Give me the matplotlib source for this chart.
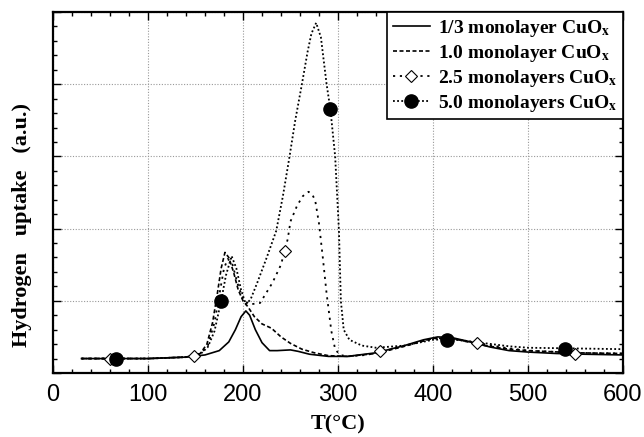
import matplotlib
matplotlib.use("Agg")
import matplotlib.pyplot as plt
from matplotlib.lines import Line2D
from matplotlib.ticker import MultipleLocator

plt.rcParams['mathtext.fontset'] = 'stix'

# 1/3 monolayer CuOx (solid)
t_13 = [30, 100, 140, 160, 175, 185, 192, 198, 203, 207, 213, 220, 228, 236, 250, 258, 270, 290,
        310, 340, 370, 390, 405, 420, 440, 460, 480, 500, 530, 560, 600]
h_13 = [0.2, 0.2, 0.22, 0.25, 0.31, 0.43, 0.6, 0.78, 0.86, 0.8, 0.6, 0.42, 0.31, 0.31, 0.32, 0.3,
        0.26, 0.23, 0.23, 0.28, 0.38, 0.46, 0.5, 0.49, 0.43, 0.36, 0.31, 0.29, 0.27, 0.26, 0.25]

# 1.0 monolayer CuOx (dashed)
t_10 = [30, 100, 140, 155, 162, 168, 173, 177, 181, 185, 190, 195, 200, 205, 212, 220, 230, 240,
        250, 262, 275, 290, 310, 340, 370, 400, 420, 450, 480, 500, 550, 600]
h_10 = [0.2, 0.2, 0.22, 0.27, 0.4, 0.7, 1.1, 1.45, 1.67, 1.6, 1.4, 1.15, 1.0, 0.92, 0.78, 0.68,
        0.62, 0.5, 0.41, 0.33, 0.28, 0.24, 0.23, 0.27, 0.37, 0.48, 0.48, 0.39, 0.33, 0.31, 0.28, 0.27]

# 2.5 monolayers CuOx (sparse dots)
t_25 = [30, 100, 140, 155, 163, 170, 176, 180, 184, 189, 194, 200, 207, 218, 231, 240, 247, 250,
        257, 263, 269, 273, 276, 280, 284, 288, 293, 297, 302, 310, 330, 360, 400, 420, 450, 480,
        500, 550, 600]
h_25 = [0.2, 0.2, 0.22, 0.26, 0.38, 0.7, 1.15, 1.45, 1.58, 1.5, 1.25, 1.02, 0.95, 0.97, 1.25,
        1.5, 1.85, 2.1, 2.32, 2.45, 2.51, 2.47, 2.39, 2.07, 1.6, 1.1, 0.58, 0.33, 0.25, 0.23, 0.25,
        0.34, 0.48, 0.47, 0.41, 0.34, 0.31, 0.28, 0.27]
t_25_mk = [60, 148, 244, 344, 446, 549]
h_25_mk = [0.2, 0.24, 1.69, 0.3, 0.41, 0.27]

# 5.0 monolayers CuOx (dense dots)
t_50 = [30, 100, 140, 155, 163, 170, 177, 182, 188, 193, 198, 203, 208, 215, 225, 235, 242, 249,
        255, 262, 268, 272, 277, 282, 288, 292, 297, 301, 303, 306, 312, 325, 340, 370, 400, 420,
        450, 480, 500, 550, 600]
h_50 = [0.2, 0.2, 0.22, 0.26, 0.36, 0.58, 1.0, 1.35, 1.62, 1.45, 1.15, 0.95, 1.02, 1.25, 1.6,
        1.97, 2.45, 3.0, 3.5, 4.0, 4.45, 4.7, 4.85, 4.65, 4.0, 3.65, 3.0, 1.97, 1.0, 0.6, 0.46,
        0.38, 0.35, 0.38, 0.46, 0.47, 0.42, 0.37, 0.35, 0.34, 0.33]
t_50_mk = [66, 177, 292, 415, 539]
h_50_mk = [0.2, 1.0, 3.65, 0.46, 0.33]

labels = [r'1/3 monolayer CuO$_{\mathbf{x}}$', r'1.0 monolayer CuO$_{\mathbf{x}}$',
          r'2.5 monolayers CuO$_{\mathbf{x}}$', r'5.0 monolayers CuO$_{\mathbf{x}}$']

ls_10 = (0, (2.4, 1.5))
ls_25 = (0, (1.2, 2.6))
ls_50 = (0, (1.0, 1.3))

fig = plt.figure(figsize=(6.44, 4.37), dpi=100)
ax = fig.add_axes([53 / 644, 64 / 437, 570 / 644, 361 / 437])

ax.plot(t_13, h_13, color='black', lw=1.2, ls='-')
ax.plot(t_10, h_10, color='black', lw=1.2, ls=ls_10)
ax.plot(t_25, h_25, color='black', lw=1.3, ls=ls_25)
ax.plot(t_50, h_50, color='black', lw=1.3, ls=ls_50)
ax.plot(t_25_mk, h_25_mk, ls='none', marker='D', ms=6.5, mfc='white', mec='black', mew=0.8)
ax.plot(t_50_mk, h_50_mk, ls='none', marker='o', ms=9.5, mfc='black', mec='black')

ax.set_xlim(0, 600)
ax.set_ylim(0, 5)
ax.xaxis.set_major_locator(MultipleLocator(100))
ax.xaxis.set_minor_locator(MultipleLocator(20))
ax.yaxis.set_major_locator(MultipleLocator(1))
ax.yaxis.set_minor_locator(MultipleLocator(0.2))
ax.tick_params(which='both', direction='in', top=True, right=True, width=1.0)
ax.tick_params(which='major', length=6)
ax.tick_params(which='minor', length=3)
ax.tick_params(axis='y', labelleft=False)
ax.tick_params(axis='x', labelsize=17, pad=8)
for lab in ax.get_xticklabels():
    lab.set_fontfamily('Liberation Sans')
for sp in ax.spines.values():
    sp.set_linewidth(1.6)
ax.grid(True, which='major', color='#999999', ls=(0, (1, 1.5)), lw=0.8)

ax.set_xlabel('T(°C)', fontsize=16, fontweight='bold', family='Liberation Serif', labelpad=6)
fig.text(22 / 644, 1 - 225 / 437, 'Hydrogen   uptake   (a.u.)', rotation=90, fontsize=16,
         fontweight='bold', family='Liberation Serif', ha='center', va='center')

handles = [
    Line2D([], [], color='black', lw=1.2, ls='-'),
    Line2D([], [], color='black', lw=1.2, ls=ls_10),
    Line2D([], [], color='black', lw=1.3, ls=ls_25, marker='D', ms=6.5, mfc='white', mec='black', mew=0.8),
    Line2D([], [], color='black', lw=1.3, ls=ls_50, marker='o', ms=9.5, mfc='black', mec='black'),
]
leg = ax.legend(handles, labels, loc='upper right', fancybox=False, framealpha=1,
                edgecolor='black', borderaxespad=0, handlelength=1.9, handletextpad=0.4,
                labelspacing=0.2, borderpad=0.3,
                prop={'family': 'Liberation Serif', 'weight': 'bold', 'size': 14})
leg.get_frame().set_linewidth(1.2)

fig.savefig('out.png', dpi=100)
